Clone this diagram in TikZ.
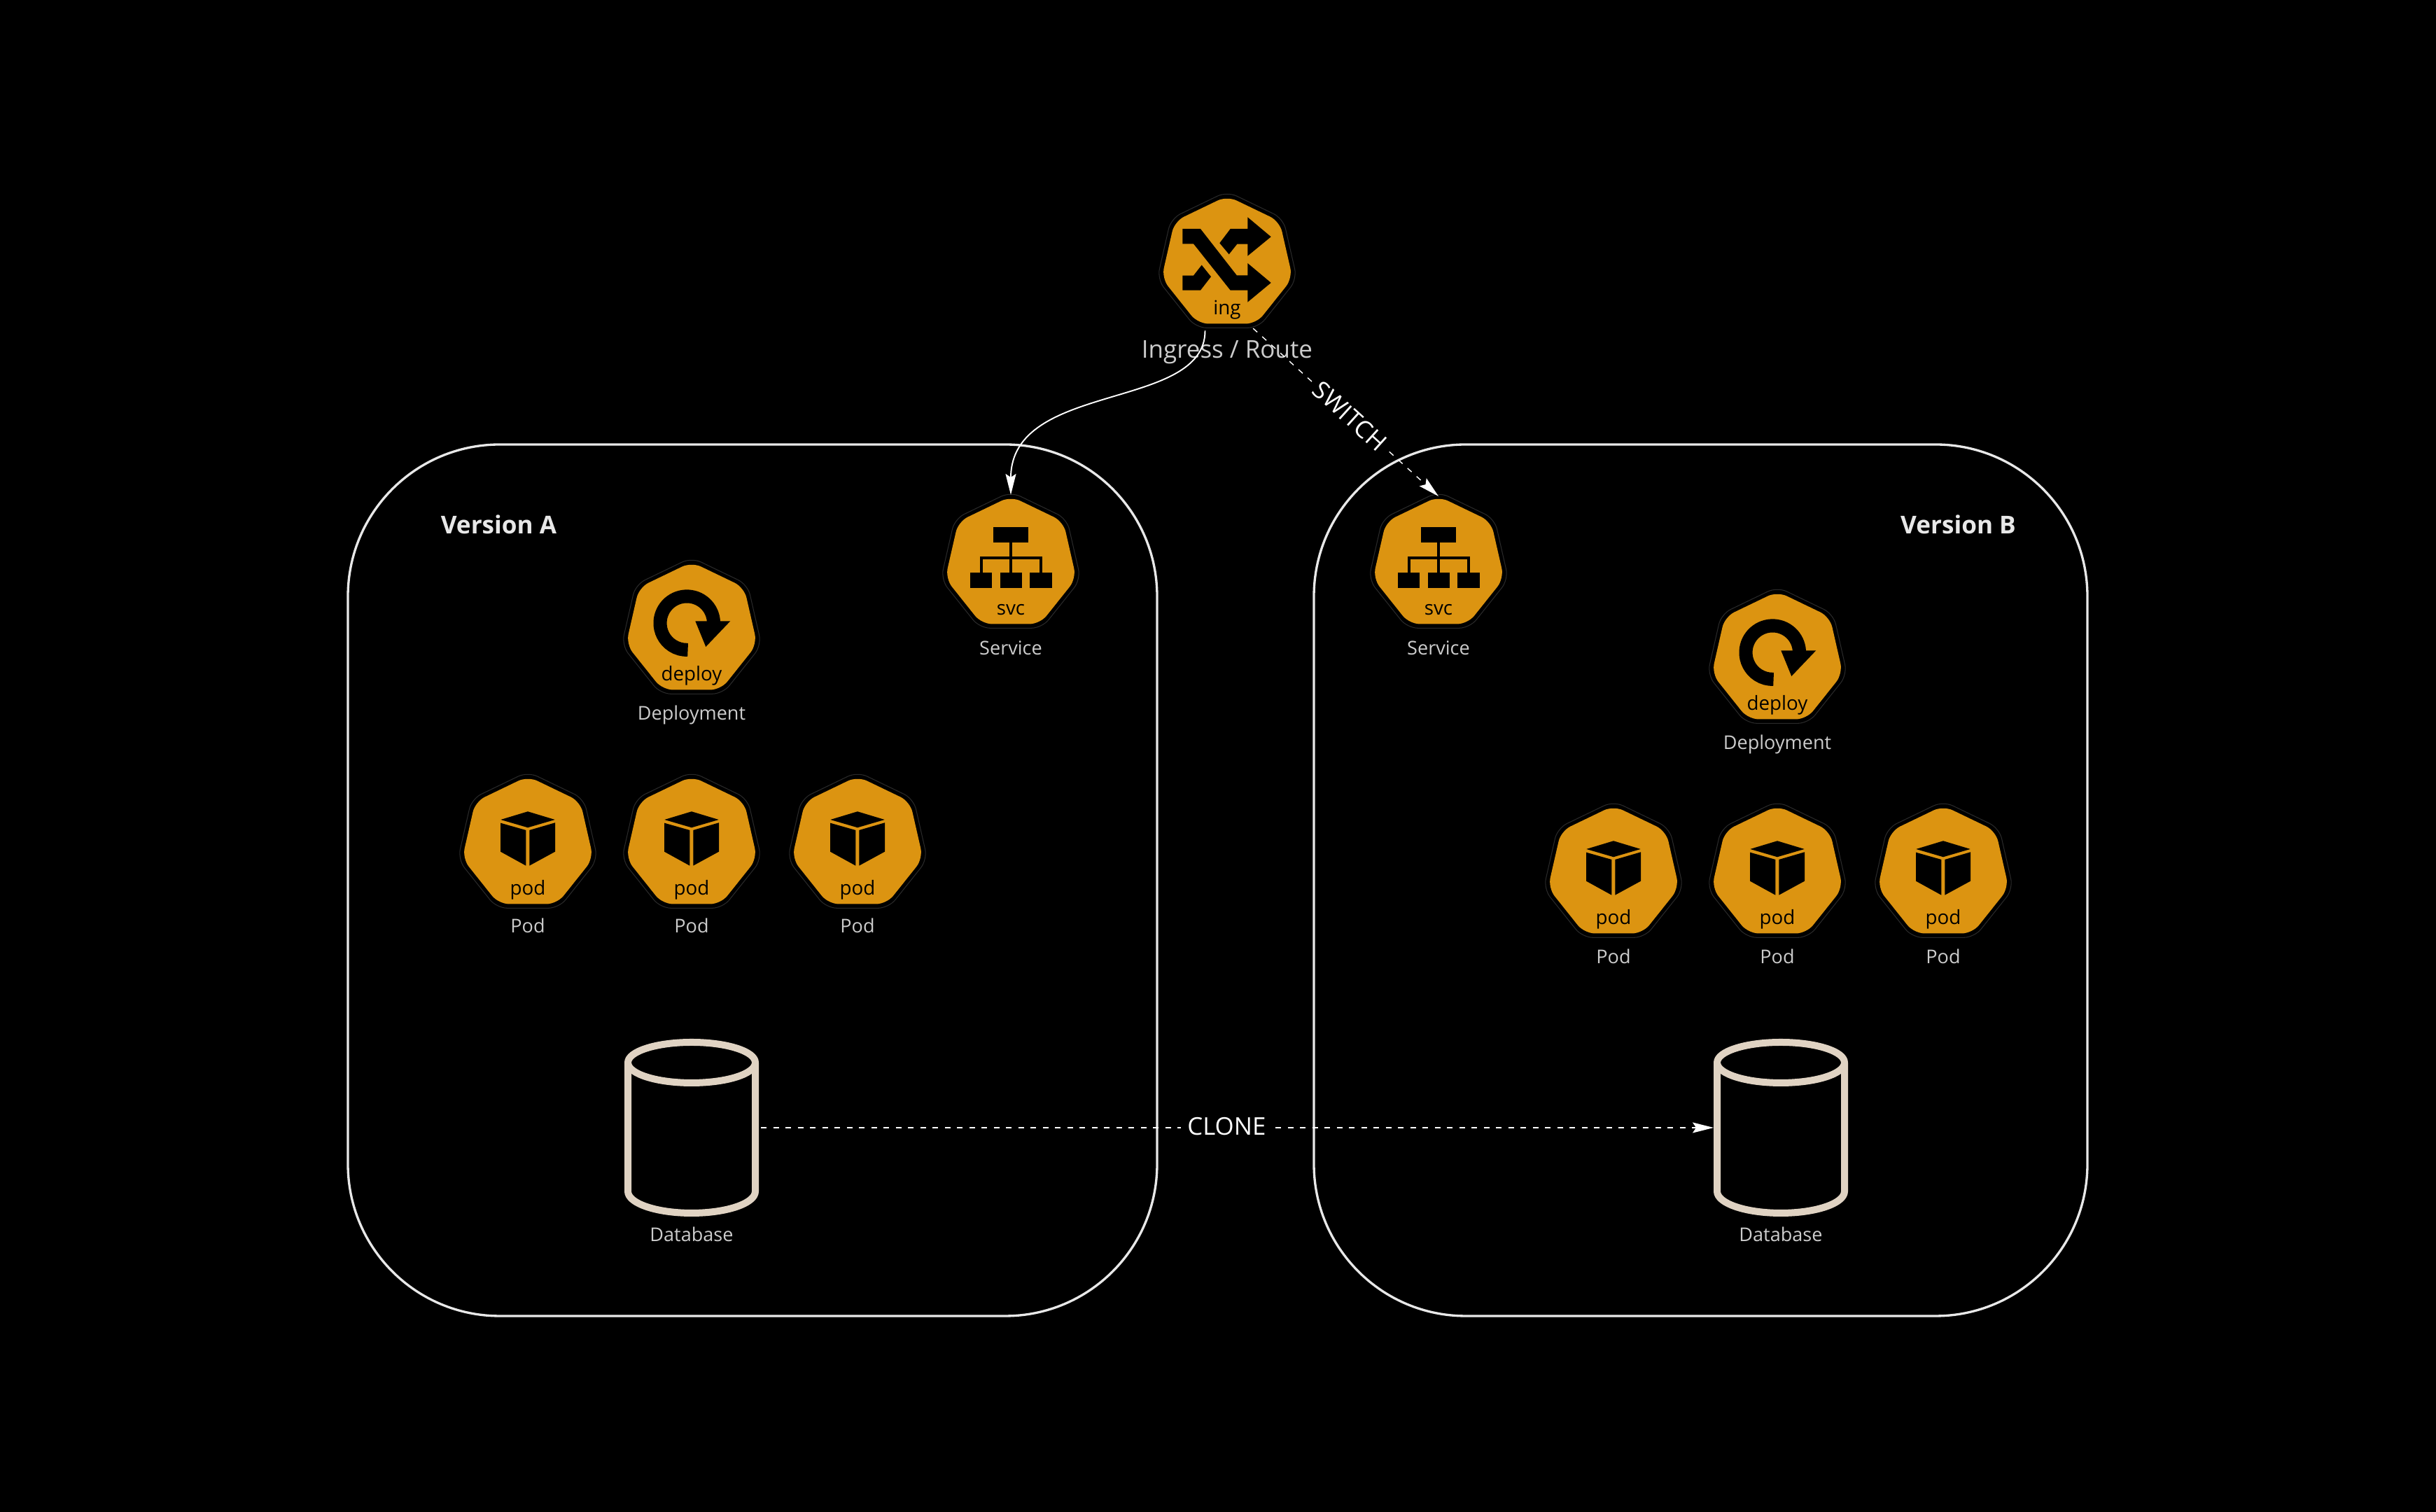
\documentclass[tikz,border=0pt]{standalone}
\usepackage{fontspec}
\setmainfont{Open Sans}
\usetikzlibrary{shapes.geometric,arrows.meta,calc}

\definecolor{kubeorange}{HTML}{DC9411}
\definecolor{kubering}{HTML}{2A2A2A}
\definecolor{dbtan}{HTML}{E0D3C3}
\definecolor{capgray}{HTML}{CCCCCC}
\definecolor{boxwhite}{HTML}{E8E8E8}

\tikzset{
    kubeout/.style = {regular polygon, regular polygon sides=7, minimum size=2.05cm, inner sep=0, outer sep=0, rounded corners=.15cm, draw=kubering, line width=.3pt, fill=black},
    kubehex/.style = {regular polygon, regular polygon sides=7, minimum size=1.92cm, inner sep=0, outer sep=0, rounded corners=.15cm, fill=kubeorange},
    kubetxt/.style = {anchor=base, inner sep=0, font=\fontsize{7.9}{9}\selectfont, text=black},
    capt/.style = {anchor=base, inner sep=0, font=\fontsize{7.7}{9}\selectfont, text=capgray},
    verbox/.style = {draw=boxwhite, line width=.95pt, rounded corners=2.17cm, inner sep=0, minimum height=12.45cm},
    vertxt/.style = {anchor=base, inner sep=0, font=\fontsize{10}{12}\selectfont\bfseries, text=boxwhite},
    dbbox/.style = {rectangle, inner sep=0, outer sep=0, minimum width=1.92cm, minimum height=2.54cm},
    edgetxt/.style = {fill=black, text=white, inner sep=.09cm, font=\fontsize{9.9}{12}\selectfont},
    linkln/.style = {draw=white, line width=.55pt, -{Stealth[length=.3cm,width=.15cm,inset=.05cm]}},
    dashln/.style = {draw=white, line width=.4pt, dash pattern=on .08cm off .095cm, -{Stealth[length=.3cm,width=.15cm,inset=.05cm]}},
    pics/ingicon/.style = {code={
        \fill (-.637,.49) -- (-.38,.49) -- (.137,-.173) -- (.293,-.173) -- (.293,0) -- (.627,-.28) -- (.293,-.557) -- (.293,-.387) -- (.047,-.387) -- (-.48,.277) -- (-.637,.277) -- cycle;
        \fill (-.107,.287) -- (.047,.49) -- (.293,.49) -- (.293,.657) -- (.627,.377) -- (.293,.103) -- (.293,.273) -- (.143,.273) -- (.027,.127) -- cycle;
        \fill (-.637,-.177) -- (-.48,-.177) -- (-.363,-.027) -- (-.23,-.193) -- (-.38,-.387) -- (-.637,-.387) -- cycle;
    }},
    pics/podicon/.style = {code={
        \fill (0,.457) -- (.387,.34) -- (0,.227) -- (-.387,.34) -- cycle;
        \fill (-.39,.293) -- (-.027,.19) -- (-.027,-.317) -- (-.39,-.117) -- cycle;
        \fill (.023,.19) -- (.39,.297) -- (.39,-.117) -- (.023,-.317) -- cycle;
    }},
    pics/depicon/.style = {code={
        \draw[line width=.191cm] (.3145,.068) arc[start angle=-3, end angle=272, radius=.3825];
        \fill (.053,.117) -- (.553,.117) -- (.203,-.25) -- cycle;
    }},
    pics/svcicon/.style = {code={
        \fill (-.247,.52) rectangle (.25,.3);
        \fill (-.58,-.13) rectangle (-.267,-.35);
        \fill (-.153,-.13) rectangle (.16,-.35);
        \fill (.273,-.13) rectangle (.587,-.35);
        \draw[line width=.04cm] (0,.3) -- (0,-.13);
        \draw[line width=.04cm] (-.423,-.13) -- (-.423,.083) -- (.427,.083) -- (.427,-.13);
    }},
    pics/dbcan/.style = {code={
        \draw[dbtan, line width=.1cm, line join=round] (0,.93) ellipse [x radius=.91, y radius=.29];
        \draw[dbtan, line width=.1cm, line join=round] (-.91,.93) -- (-.91,-.91) arc[start angle=180, end angle=360, x radius=.91, y radius=.31] -- (.91,.93);
    }},
}

% ring, orange plate, icon and short name of one object
\newcommand{\kube}[4]{%
    \node[kubeout] (#1r) at (#2) {};
    \node[kubehex] (#1) at (#2) {};
    \pic at (#2) {#3};
    \node[kubetxt] (#1t) at ($(#1)+(0,-.74)$) {#4};
}

\begin{document}
\begin{tikzpicture}
    \fill[black] (0,0) rectangle (34.8,21.6);

    % the two versions
    \node[verbox, minimum width=11.56cm] (verA) at (10.75,9.025) {};
    \node[verbox, minimum width=11.05cm] (verB) at (24.295,9.025) {};
    \node[vertxt] (verAt) at (7.125,13.97) {Version A};
    \node[vertxt] (verBt) at (27.975,13.97) {Version B};

    \kube{ing}{17.53,17.84}{ingicon}{ing}
    \node[capt, font=\fontsize{9.95}{12}\selectfont] (ingc) at ($(ing)+(0,-1.36)$) {Ingress / Route};

    % version A
    \kube{svcA}{14.44,13.55}{svcicon}{svc}
    \node[capt] (svcAc) at ($(svcA)+(0,-1.31)$) {Service};
    \kube{depA}{9.88,12.61}{depicon}{deploy}
    \node[capt] (depAc) at ($(depA)+(0,-1.30)$) {Deployment};
    \kube{podAa}{7.54,9.55}{podicon}{pod}
    \node[capt] (podAac) at ($(podAa)+(0,-1.28)$) {Pod};
    \kube{podAb}{9.88,9.55}{podicon}{pod}
    \node[capt] (podAbc) at ($(podAb)+(0,-1.28)$) {Pod};
    \kube{podAc}{12.25,9.55}{podicon}{pod}
    \node[capt] (podAcc) at ($(podAc)+(0,-1.28)$) {Pod};

    % version B
    \kube{svcB}{20.55,13.55}{svcicon}{svc}
    \node[capt] (svcBc) at ($(svcB)+(0,-1.31)$) {Service};
    \kube{depB}{25.39,12.19}{depicon}{deploy}
    \node[capt] (depBc) at ($(depB)+(0,-1.30)$) {Deployment};
    \kube{podBa}{23.05,9.13}{podicon}{pod}
    \node[capt] (podBac) at ($(podBa)+(0,-1.30)$) {Pod};
    \kube{podBb}{25.39,9.13}{podicon}{pod}
    \node[capt] (podBbc) at ($(podBb)+(0,-1.30)$) {Pod};
    \kube{podBc}{27.76,9.13}{podicon}{pod}
    \node[capt] (podBcc) at ($(podBc)+(0,-1.30)$) {Pod};

    % databases
    \node[dbbox] (dbA) at (9.88,5.49) {};
    \pic at (dbA) {dbcan};
    \node[capt] (dbAc) at ($(dbA)+(0,-1.63)$) {Database};
    \node[dbbox] (dbB) at (25.44,5.49) {};
    \pic at (dbB) {dbcan};
    \node[capt] (dbBc) at ($(dbB)+(0,-1.63)$) {Database};

    % connectors
    \draw[linkln, shorten <=.1cm, shorten >=.02cm] (ing.250) .. controls +(0,-1.25) and +(0,1.65) .. (svcA.north);
    \draw[dashln, shorten <=.1cm] (ing.-71) -- node[edgetxt, sloped, pos=.535] (swt) {SWITCH} (svcB.north);
    \draw[dashln, shorten <=.03cm] (dbA.east) -- node[edgetxt, pos=.49, yshift=.02cm] (clt) {CLONE} (dbB.west);
\end{tikzpicture}
\end{document}
